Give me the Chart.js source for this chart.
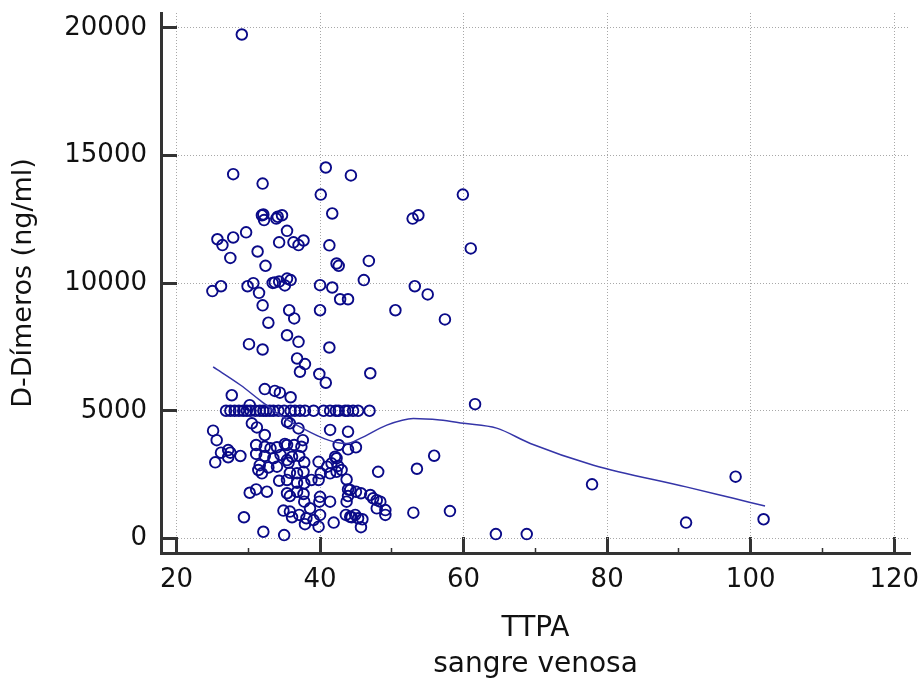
<!DOCTYPE html>
<html>
<head>
<meta charset="utf-8">
<script src="https://cdn.jsdelivr.net/npm/chart.js@4.4.0/dist/chart.umd.min.js"></script>
<style>
  html, body { margin: 0; padding: 0; background: #fff; }
  #wrap { width: 924px; height: 680px; }
</style>
</head>
<body>
<div id="wrap"><canvas id="c" width="924" height="680"></canvas></div>
<script>
// TTPA (s) for each patient, sangre venosa
const ttpa = [
  29.1, 27.9, 32.0, 40.8, 44.3, 40.1, 59.9,
  31.9, 32.1, 32.2, 33.9, 34.1, 34.7, 41.7, 52.9, 53.7, 35.4, 29.7,
  25.7, 27.9, 26.4, 34.3, 36.3, 37.0, 37.7, 41.3, 61.0, 31.3, 27.5,
  46.8, 42.3, 42.6, 32.4, 35.4, 35.9, 46.1, 34.3, 33.4, 33.7, 30.7,
  29.9, 26.2, 25.0, 31.5, 35.1, 40.0, 41.7, 53.2, 55.0, 42.8, 43.9,
  32.0, 35.7, 40.0, 50.5, 36.4, 57.4, 32.8, 35.4, 37.0, 30.1, 41.3,
  32.0, 36.8, 37.9, 37.2, 47.0, 39.9, 40.8, 32.3, 33.7, 34.4, 27.7,
  35.9, 61.6, 30.2,
  // row at 5000
  26.9, 27.5, 28.1, 28.7, 29.3, 29.8, 30.3, 31.0, 31.6, 32.1, 32.5,
  33.0, 33.5, 34.2, 35.0, 35.9, 36.5, 37.2, 37.9, 39.1, 40.5, 41.4,
  42.2, 42.6, 43.5, 43.9, 44.6, 45.3, 46.9,
  // below 5000
  25.1, 25.6, 30.5, 31.2, 32.3, 35.4, 35.8, 37.0, 41.4, 43.9, 42.6,
  43.9, 45.0, 42.1, 42.3, 55.9, 53.5, 48.1, 41.4, 42.3, 43.0, 43.9,
  43.9, 45.0, 45.7, 47.0, 47.4, 47.9, 48.4, 41.4, 47.9, 49.1, 49.1,
  43.6, 44.4, 44.9, 45.3, 45.9, 45.7, 41.9, 53.0, 58.1, 64.5, 68.8,
  77.9, 91.0, 97.9, 101.8,
  26.2, 27.2, 27.5, 28.9, 25.4, 27.2, 29.4, 32.1, 35.0,
  31.1, 32.3, 33.1, 34.0, 35.1, 35.4, 36.4, 37.6, 37.4,
  31.1, 32.3, 33.5, 34.5, 35.4, 36.1, 37.8, 37.1,
  31.6, 32.8, 34.0, 35.6, 35.8, 36.8, 37.7, 38.8, 39.8, 40.1, 39.8,
  41.0, 41.6, 42.5, 31.4, 31.9, 34.3, 35.4, 36.8, 37.8, 30.2, 31.1,
  32.6, 35.4, 35.8, 36.8, 37.7, 37.8, 38.6, 40.0, 39.9,
  34.9, 35.8, 36.1, 37.1, 38.1, 37.9, 39.1, 39.8, 40.0,
  44.2, 43.7, 44.2, 43.7
];

// D-Dimeros (ng/ml), same order as ttpa
const dimeros = [
  19740, 14270, 13900, 14530, 14220, 13470, 13470,
  12660, 12690, 12470, 12530, 12600, 12660, 12730, 12530, 12660, 12050, 11990,
  11720, 11790, 11490, 11600, 11600, 11490, 11670, 11480, 11360, 11240, 10990,
  10870, 10770, 10680, 10680, 10180, 10120, 10120, 10060, 10010, 10030, 10000,
  9880, 9880, 9690, 9620, 9910, 9920, 9830, 9880, 9560, 9370, 9370,
  9130, 8940, 8940, 8940, 8620, 8580, 8450, 7960, 7700, 7610, 7480,
  7400, 7050, 6830, 6530, 6470, 6440, 6100, 5850, 5780, 5710, 5610,
  5530, 5260, 5220,
  5000, 5000, 5000, 5000, 5000, 5000, 5000, 5000, 5000, 5000, 5000,
  5000, 5000, 5000, 5000, 5000, 5000, 5000, 5000, 5000, 5000, 5000,
  5000, 5000, 5000, 5000, 5000, 5000, 5000,
  4220, 3850, 4510, 4350, 4050, 4570, 4510, 4310, 4250, 4180, 3660,
  3490, 3570, 3200, 3140, 3240, 2730, 2610, 2550, 2610, 2680, 1920,
  1660, 1830, 1770, 1700, 1570, 1500, 1440, 1440, 1180, 1110, 920,
  920, 830, 920, 790, 750, 440, 620, 1010, 1070, 170, 170,
  2120, 620, 2420, 750,
  3360, 3460, 3360, 3230, 2980, 3180, 830, 260, 130,
  3660, 3590, 3530, 3570, 3700, 3660, 3660, 3850, 3590,
  3310, 3230, 3140, 3270, 3070, 3200, 2980, 3230,
  2870, 2780, 2810, 2960, 2570, 2550, 2610, 2290, 2290, 2550, 3000,
  2810, 2940, 2840, 2680, 2550, 2260, 2290, 2180, 2160, 1790, 1920,
  1830, 1770, 1660, 1830, 1740, 1440, 1180, 1630, 1440,
  1090, 1050, 830, 920, 790, 560, 720, 460, 920,
  850, 1440, 1900, 2310
];

// smoothed trend line
const smoothX = [25.1, 28.9, 31.6, 34.4, 37.2, 40.0, 42.3, 43.7, 45.6, 49.3, 53.0, 56.7, 60.0, 64.6, 69.3, 78.1, 91.0, 97.6, 102.0];
const smoothY = [6720, 6010, 5420, 4830, 4370, 3980, 3760, 3720, 3920, 4440, 4700, 4640, 4510, 4320, 3720, 2870, 2020, 1570, 1270];

const xTickValues = [20, 30, 40, 50, 60, 70, 80, 90, 100, 110, 120];
const yTickValues = [0, 5000, 10000, 15000, 20000];

const isMajorX = ctx => ctx.tick && ctx.tick.value % 20 === 0;

const pts = ttpa.map((x, i) => ({ x: x, y: dimeros[i] }));
const trend = smoothX.map((x, i) => ({ x: x, y: smoothY[i] }));

const tickFont = { family: 'DejaVu Sans', size: 26 };

new Chart(document.getElementById('c').getContext('2d'), {
  type: 'scatter',
  data: {
    datasets: [
      {
        data: pts,
        pointStyle: 'circle',
        pointRadius: 5.3,
        pointBorderWidth: 1.9,
        pointBorderColor: '#0a0a88',
        pointBackgroundColor: 'rgba(0,0,0,0)',
        order: 2
      },
      {
        data: trend,
        showLine: true,
        pointRadius: 0,
        borderColor: '#3535a8',
        borderWidth: 1.5,
        cubicInterpolationMode: 'monotone',
        order: 1
      }
    ]
  },
  options: {
    responsive: false,
    animation: false,
    layout: { padding: { left: 0, right: 14, top: 13, bottom: 0 } },
    plugins: { legend: { display: false }, tooltip: { enabled: false } },
    scales: {
      x: {
        type: 'linear',
        min: 17.84,
        max: 122.2,
        afterBuildTicks: s => { s.ticks = xTickValues.map(v => ({ value: v })); },
        afterFit: s => {
          s.height = 127;
          s.paddingLeft = 0;
          s.paddingRight = 0;
        },
        ticks: {
          autoSkip: false,
          maxRotation: 0,
          padding: 28,
          font: tickFont,
          color: '#111',
          callback: v => (v % 20 === 0 ? String(v) : '')
        },
        grid: {
          color: ctx => (isMajorX(ctx) ? '#a8a8a8' : 'rgba(0,0,0,0)'),
          lineWidth: 1,
          drawTicks: true,
          tickLength: -16,
          tickColor: '#333',
          tickWidth: ctx => (isMajorX(ctx) ? 3 : 1.5),
          tickBorderDash: ctx => (isMajorX(ctx) ? [] : [7, 40])
        },
        border: { color: '#333', width: 3, dash: [1, 2] },
        title: {
          display: true,
          text: ['TTPA', 'sangre venosa'],
          color: '#111',
          font: { family: 'DejaVu Sans', size: 28, lineHeight: 1.29 },
          padding: { top: 0, bottom: -3 }
        }
      },
      y: {
        type: 'linear',
        min: -571,
        max: 20583,
        afterBuildTicks: s => { s.ticks = yTickValues.map(v => ({ value: v })); },
        afterFit: s => {
          s.width = 161;
          s.paddingTop = 0;
          s.paddingBottom = 0;
        },
        ticks: {
          padding: 30,
          font: tickFont,
          color: '#111',
          callback: v => String(v)
        },
        grid: {
          color: '#a8a8a8',
          lineWidth: 1,
          drawTicks: true,
          tickLength: -16,
          tickColor: '#333',
          tickWidth: 3
        },
        border: { color: '#333', width: 3, dash: [1, 2] },
        title: {
          display: true,
          text: 'D-Dímeros (ng/ml)',
          color: '#111',
          font: { family: 'DejaVu Sans', size: 27 },
          padding: { top: 8, bottom: 0 }
        }
      }
    }
  }
});
</script>
</body>
</html>
